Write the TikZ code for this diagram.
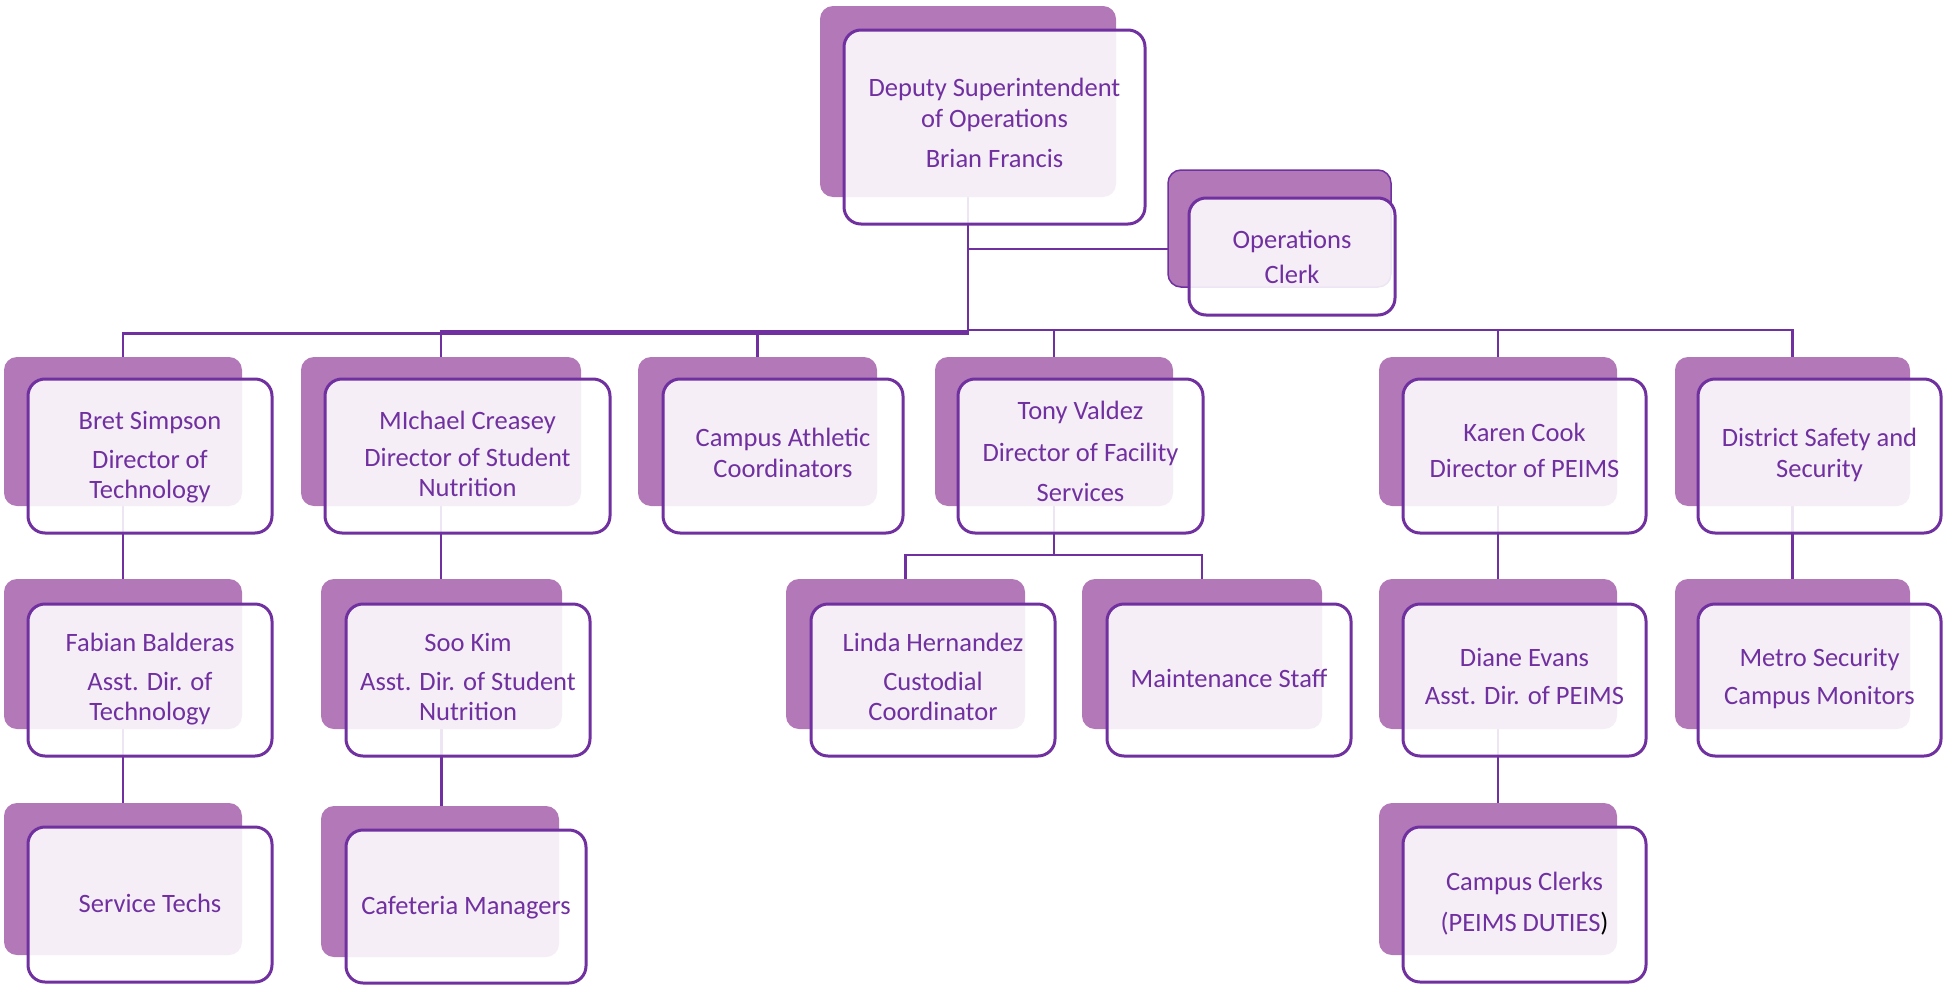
\documentclass[tikz,border=0pt]{standalone}
\usepackage{fontspec}
\setmainfont{Carlito}
\usetikzlibrary{fit}
\pgfdeclarelayer{bg}
\pgfsetlayers{bg,main}
\definecolor{backc}{HTML}{B278B7}
\definecolor{linec}{HTML}{7030A0}
\tikzset{
  backbox/.style={inner sep=0pt, outer sep=0pt, fill=backc, rounded corners=13pt},
  frontbox/.style={inner sep=0pt, outer sep=0pt, fill=white, fill opacity=0.88, draw=linec, draw opacity=1, line width=3pt, rounded corners=17pt},
  conn/.style={draw=linec, line width=2.5pt},
  txt/.style={text=linec, align=center, font=\fontsize{26.5}{30.5}\selectfont, inner sep=0pt,
    execute at begin node=\strut, execute at end node=\strut}
}
\newcommand\orgbox[9]{%
  \node[backbox, fit={(#2,#3) (#4,#5)}] (#1b) {};
  \node[frontbox, fit={(#6,#7) (#8,#9)}] (#1) {};
}
\begin{document}
\begin{tikzpicture}[x=1pt, y=-1pt]
\useasboundingbox (0,0) rectangle (1944,985);
% boxes
\orgbox{top}{820}{6}{1116}{197}{844}{30}{1145}{224}
\node[backbox, draw=linec, line width=1.5pt, fit={(1168,170) (1391,287)}] (opsb) {};
\node[frontbox, fit={(1189,198) (1395,315)}] (ops) {};
\orgbox{bret}{4}{357}{242}{506}{28}{379}{272}{533}
\orgbox{mich}{301}{357}{581}{506}{325}{379}{610}{533}
\orgbox{ath}{638}{357}{877}{506}{663}{379}{903}{533}
\orgbox{tony}{935}{357}{1173}{506}{958}{379}{1203}{533}
\orgbox{karen}{1379}{357}{1617}{506}{1403}{379}{1646}{533}
\orgbox{dist}{1675}{357}{1910}{506}{1698}{379}{1941}{533}
\orgbox{fab}{4}{579}{242}{729}{28}{604}{272}{756}
\orgbox{soo}{321}{579}{562}{729}{346}{604}{590}{756}
\orgbox{linda}{786}{579}{1025}{729}{811}{604}{1055}{756}
\orgbox{maint}{1082}{579}{1322}{729}{1107}{604}{1351}{756}
\orgbox{diane}{1379}{579}{1617}{729}{1403}{604}{1646}{756}
\orgbox{metro}{1675}{579}{1910}{729}{1698}{604}{1941}{756}
\orgbox{serv}{4}{803}{242}{955}{28}{827}{272}{982}
\orgbox{caf}{321}{806}{559}{957}{346}{830}{586}{983}
\orgbox{clerk}{1379}{803}{1617}{955}{1403}{827}{1646}{982}
% texts
\node[txt] (topt) at (994.5,127.5) {Deputy Superintendent\\of Operations\\[9.5pt]Brian Francis};
\node[txt] (opst) at (1292,261.5) {Operations\\[4.5pt]Clerk};
\node[txt] (brett) at (150,459.5) {Bret Simpson\\[8.5pt]Director of\\Technology};
\node[txt] (micht) at (467.5,458.5) {MIchael Creasey\\[6.5pt]Director of Student\\Nutrition};
\node[txt] (atht) at (783,457.5) {Campus Athletic\\Coordinators};
\node[txt] (tonyt) at (1080.5,456) {Tony Valdez\\[11.5pt]Director of Facility\\[9.5pt]Services};
\node[txt] (karent) at (1524.5,455) {Karen Cook\\[5.5pt]Director of PEIMS};
\node[txt] (distt) at (1819.5,457.5) {District Safety and\\Security};
\node[txt] (fabt) at (150,681.5) {Fabian Balderas\\[8.5pt]Asst. Dir. of\\Technology};
\node[txt] (soot) at (468,681.5) {Soo Kim\\[8.5pt]Asst. Dir. of Student\\Nutrition};
\node[txt] (lindat) at (933,681.5) {Linda Hernandez\\[8.5pt]Custodial\\Coordinator};
\node[txt] (maintt) at (1229,681) {Maintenance Staff};
\node[txt] (dianet) at (1524.5,681) {Diane Evans\\[7.5pt]Asst. Dir. of PEIMS};
\node[txt] (metrot) at (1819.5,681) {Metro Security\\[7.5pt]Campus Monitors};
\node[txt] (servt) at (150,906) {Service Techs};
\node[txt] (caft) at (466,908) {Cafeteria Managers};
\node[txt] (clerkt) at (1524.5,906.5) {Campus Clerks\\[10.5pt](PEIMS DUTIES{\color{black})}};
% connectors
\begin{pgfonlayer}{bg}
\draw[conn] (topb.south) -- (topb.south |- 0,333.5) -| (bretb.north);
\draw[conn] (topb.south |- 0,331.5) -| (michb.north);
\draw[conn] (topb.south |- 0,331.5) -| (athb.north);
\draw[conn] (topb.south |- 0,330) -| (tonyb.north);
\draw[conn] (topb.south |- 0,330) -| (karenb.north);
\draw[conn] (topb.south |- 0,330) -| (distb.north);
\draw[conn] (topb.south |- 0,249) -- (opsb.west |- 0,249);
\draw[conn] (bretb.south) -- (fabb.north);
\draw[conn] (michb.south) -- (michb.south |- soob.north);
\draw[conn] (tonyb.south) -- (tonyb.south |- 0,555) -| (lindab.north);
\draw[conn] (tonyb.south |- 0,555) -| (maintb.north);
\draw[conn] (karenb.south) -- (dianeb.north);
\draw[conn] (distb.south) -- (metrob.north);
\draw[conn] (fabb.south) -- (servb.north);
\draw[conn] (soob.south) -- (soob.south |- cafb.north);
\draw[conn] (dianeb.south) -- (clerkb.north);
\end{pgfonlayer}
\end{tikzpicture}
\end{document}
